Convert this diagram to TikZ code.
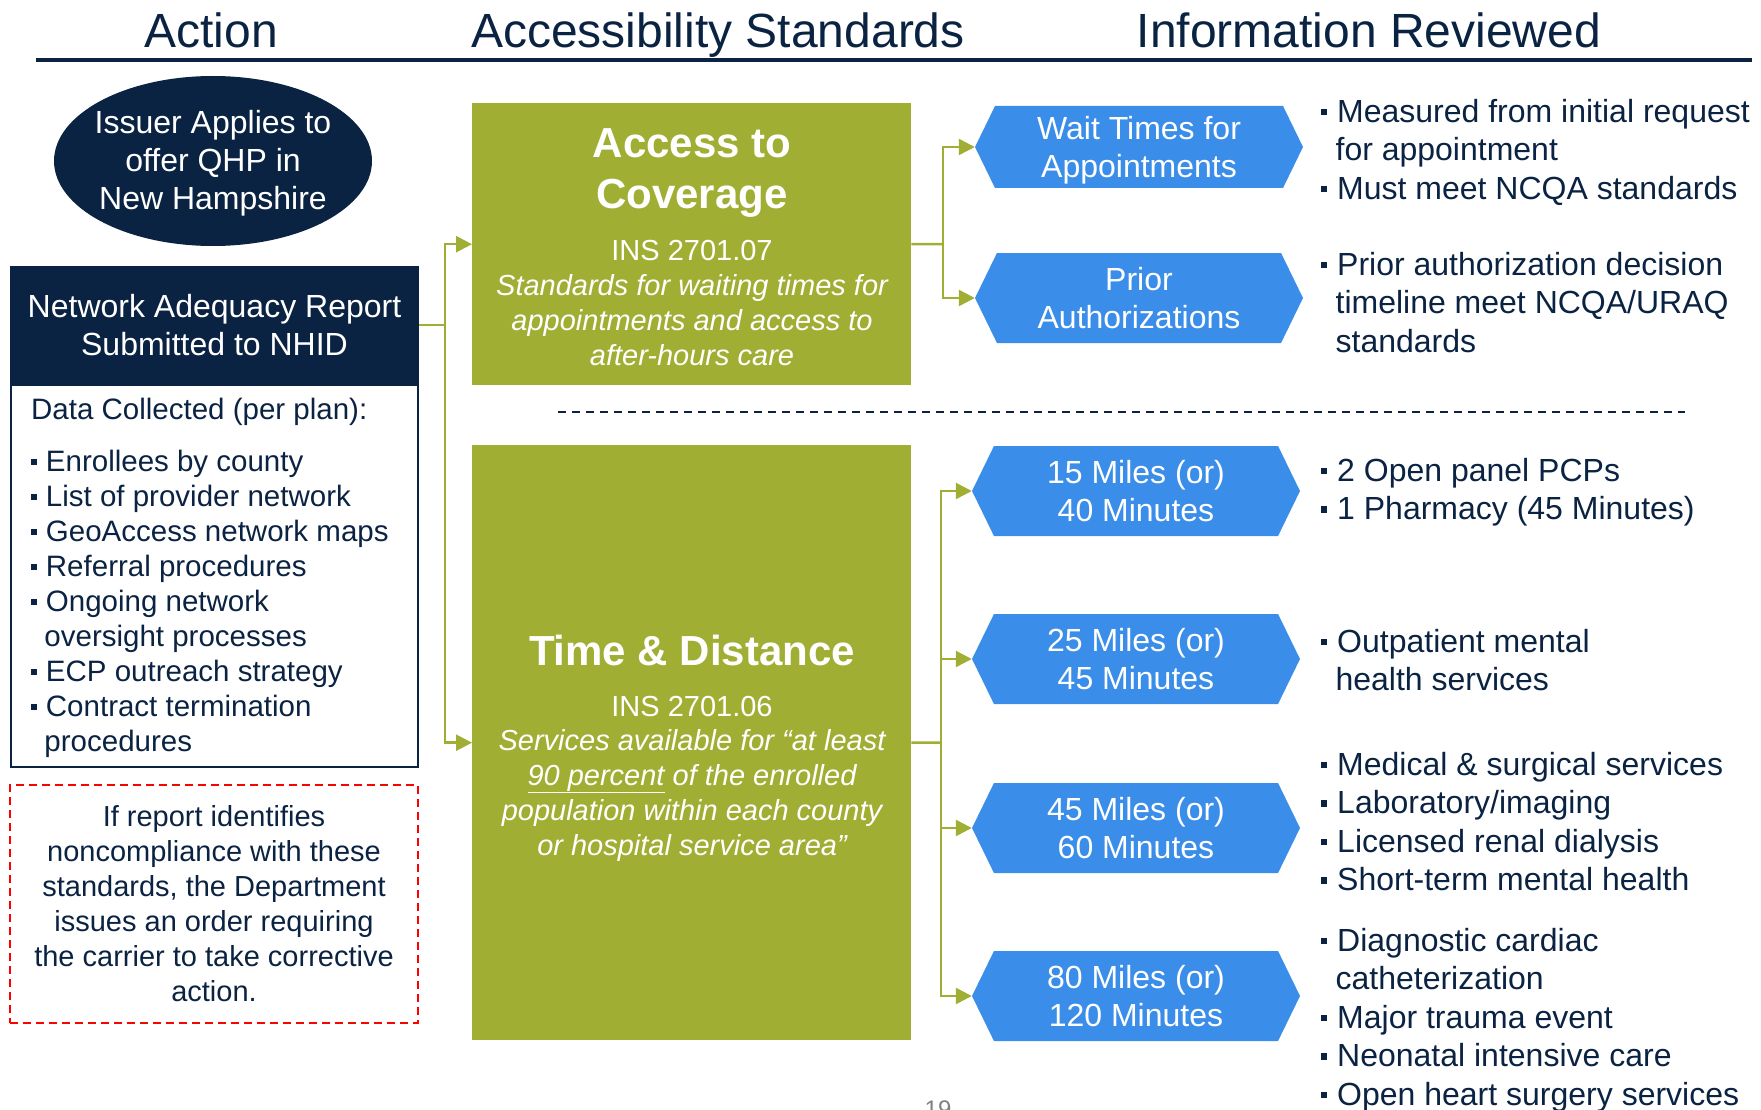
\documentclass[tikz,border=0pt]{standalone}
\usepackage{fontspec}
\setmainfont{Liberation Sans}
\usetikzlibrary{shapes,arrows.meta}
\definecolor{navy}{HTML}{0B2342}
\definecolor{olive}{HTML}{A0AE34}
\definecolor{skyblue}{HTML}{3A8DE8}
\newcommand\fsz[2]{\fontsize{#1}{#2}\selectfont}
\newcommand\bul{\makebox[0.5em][l]{\rule[0.23em]{0.19em}{0.19em}}}
\newcommand\ind{\hspace*{0.45em}}

\begin{document}
\begin{tikzpicture}[x=1pt,y=-1pt]
\tikzstyle{every node}=[inner sep=0pt]
\tikzstyle{hdr}=[text=navy,font=\fsz{48}{56},anchor=base]
\tikzstyle{dark}=[fill=navy,text=white,font=\fsz{32}{38},align=center]
\tikzstyle{grn}=[fill=olive,minimum width=439,anchor=north west]
\tikzstyle{ttl}=[text=white,font=\bfseries\fsz{42}{51},align=center]
\tikzstyle{code}=[text=white,font=\fsz{29}{35},anchor=base]
\tikzstyle{desc}=[text=white,font=\itshape\fsz{29}{35},align=center]
\tikzstyle{hex}=[shape=signal,signal to=east and west,signal pointer angle=128,fill=skyblue,text=white,font=\fsz{32}{38},align=center,text depth=0pt,minimum width=328,minimum height=90]
\tikzstyle{info}=[text=navy,font=\fsz{32}{38.5},align=left,anchor=north west]
\tikzstyle{conn}=[olive,line width=2.5pt]
\tikzstyle{arr}=[conn,-{Triangle[length=16pt,width=16pt]}]
\useasboundingbox (0,0) rectangle (1761,1110);
\node[hdr] (hact) at (211,48) {Action};
\node[hdr] (hacc) at (718,48) {Accessibility Standards};
\node[hdr] (hinf) at (1369,48) {Information Reviewed};
\draw[navy,line width=3.5pt] (36,60) -- (1752,60);
\node[fill=navy,ellipse,minimum width=318,minimum height=170] (issuer) at (213,161) {};
\node[dark,fill=none] (issuertxt) at (213,163) {Issuer Applies to\\offer QHP in\\New Hampshire};
\node[dark,minimum width=409,minimum height=118] (nar) at (214.5,325) {Network Adequacy Report\\Submitted to NHID};
\node[draw=navy,line width=2pt,minimum width=407,minimum height=382,anchor=north west] (data) at (10,384) {};
\node[text=navy,font=\fsz{29.5}{35},align=left,anchor=north west] (datatxt) at (31,398) {Data Collected (per plan):\\[17pt]
\bul Enrollees by county\\
\bul List of provider network\\
\bul GeoAccess network maps\\
\bul Referral procedures\\
\bul Ongoing network\\
\ind oversight processes\\
\bul ECP outreach strategy\\
\bul Contract termination\\
\ind procedures};
\node[draw=red,dashed,dash pattern=on 8pt off 5pt,line width=2pt,minimum width=408,minimum height=238,text=navy,font=\fsz{29}{35},align=center] (act) at (214,904) {If report identifies\\noncompliance with these\\standards, the Department\\issues an order requiring\\the carrier to take corrective\\action.};
\node[grn,minimum height=282] (acc) at (472,103) {};
\node[ttl] (accttl) at (692,173) {Access to\\Coverage};
\node[code] (acccode) at (692,260) {INS 2701.07};
\node[desc] (accdesc) at (692,320) {Standards for waiting times for\\appointments and access to\\after-hours care};
\node[grn,minimum height=595] (tnd) at (472,445) {};
\node[ttl,anchor=base] (tndttl) at (692,665) {Time \& Distance};
\node[code] (tndcode) at (692,716) {INS 2701.06};
\node[desc] (tnddesc) at (692,795) {Services available for “at least\\\underline{90 percent} of the enrolled\\population within each county\\or hospital service area”};
\draw[navy,line width=2pt,dash pattern=on 8pt off 6pt] (558,412) -- (1685,412);
\node[hex,minimum height=82] (hwait) at (1139,147) {Wait Times for\\Appointments};
\node[hex] (hprior) at (1139,298) {Prior\\Authorizations};
\node[hex] (h15) at (1136,491) {15 Miles (or)\\40 Minutes};
\node[hex] (h25) at (1136,659) {25 Miles (or)\\45 Minutes};
\node[hex] (h45) at (1136,828) {45 Miles (or)\\60 Minutes};
\node[hex] (h80) at (1136,996) {80 Miles (or)\\120 Minutes};
\coordinate (jl) at (445,325);
\coordinate (ja) at (943,244);
\coordinate (jt) at (941,742.5);
\draw[conn] (nar.east) -- (jl);
\draw[arr] (jl) |- (acc.west);
\draw[arr] (jl) |- (tnd.west);
\draw[conn] (acc.east) -- (ja);
\draw[arr] (ja) |- (hwait.west);
\draw[arr] (ja) |- (hprior.west);
\draw[conn] (tnd.east) -- (jt);
\foreach \h in {h15,h25,h45,h80}
  \draw[arr] (jt) |- (\h.west);
\node[info] (iwait) at (1321,99) {\bul Measured from initial request\\\ind for appointment\\\bul Must meet NCQA standards};
\node[info] (iprior) at (1321,252) {\bul Prior authorization decision\\\ind timeline meet NCQA/URAQ\\\ind standards};
\node[info] (i15) at (1321,458) {\bul 2 Open panel PCPs\\\bul 1 Pharmacy (45 Minutes)};
\node[info] (i25) at (1321,629) {\bul Outpatient mental\\\ind health services};
\node[info] (i45) at (1321,752) {\bul Medical \& surgical services\\\bul Laboratory/imaging\\\bul Licensed renal dialysis\\\bul Short-term mental health};
\node[info] (i80) at (1321,928) {\bul Diagnostic cardiac\\\ind catheterization\\\bul Major trauma event\\\bul Neonatal intensive care\\\bul Open heart surgery services};
\begin{scope}
\clip (0,0) rectangle (1761,1110);
\node[text=gray,font=\fsz{24}{28},anchor=north] (pg) at (938,1101) {19};
\end{scope}
\end{tikzpicture}
\end{document}
